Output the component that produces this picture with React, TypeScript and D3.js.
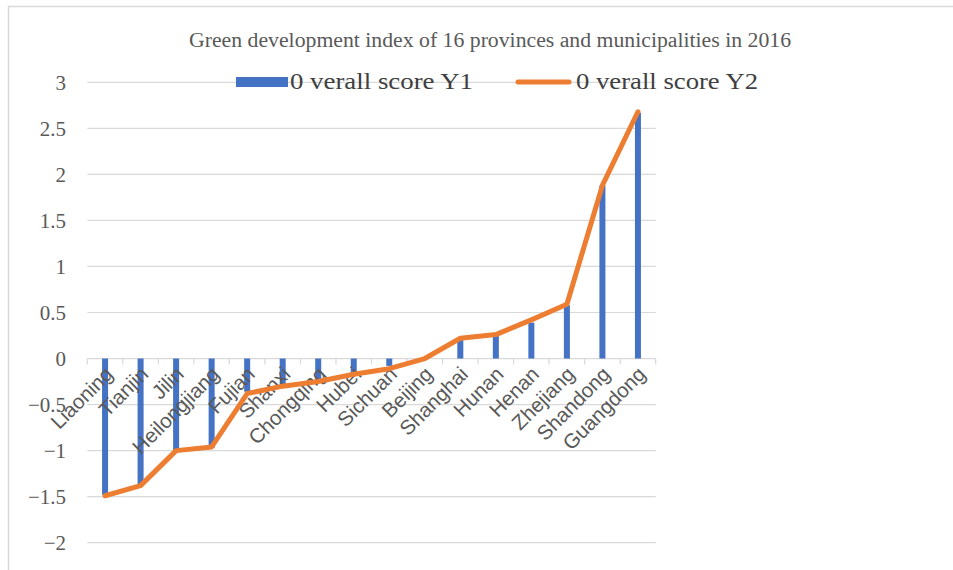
import React from 'react';
import * as d3 from 'd3';

const provinces = [
  'Liaoning', 'Tianjin', 'Jilin', 'Heilongjiang', 'Fujian', 'Shanxi', 'Chongqing', 'Hubei',
  'Sichuan', 'Beijing', 'Shanghai', 'Hunan', 'Henan', 'Zhejiang', 'Shandong', 'Guangdong',
];
const scoreY1 = [-1.48, -1.37, -1.01, -0.97, -0.36, -0.28, -0.24, -0.17, -0.08, -0.01, 0.2, 0.26, 0.39, 0.58, 1.88, 2.67];
const scoreY2 = [-1.49, -1.38, -1.0, -0.96, -0.38, -0.3, -0.25, -0.17, -0.11, 0.0, 0.22, 0.26, 0.42, 0.59, 1.88, 2.68];
const yTicks = [3, 2.5, 2, 1.5, 1, 0.5, 0, -0.5, -1, -1.5, -2];

const W = 953;
const H = 570;

const App: React.FC = () => {
  const x = d3.scaleBand<string>().domain(provinces).range([87.3, 655.7]);
  const y = d3.scaleLinear().domain([-2, 3]).range([542.7, 82.3]);
  const fmt = d3.format('~g');
  const barW = 6;

  const line = d3.line<number>()
    .x((_, i) => (x(provinces[i]) as number) + x.bandwidth() / 2)
    .y(d => y(d));

  const grey = '#595959';
  const gridColor = '#d9d9d9';

  return (
    <svg width={W} height={H} style={{ position: 'absolute', left: 0, top: 0 }}>
      <rect x={0} y={0} width={W} height={H} fill="#fff" />
      {/* chart frame */}
      <rect x={8.5} y={6.5} width={W} height={H} fill="none" stroke={gridColor} strokeWidth={1.5} />

      <text x={490} y={47} textAnchor="middle" fontFamily="'Liberation Serif', serif" fontSize={20}
        fill={grey} textLength={602} lengthAdjust="spacingAndGlyphs">
        Green development index of 16 provinces and municipalities in 2016
      </text>

      {/* gridlines */}
      {yTicks.map(t => (
        <line key={t} x1={87.3} x2={655.7} y1={y(t)} y2={y(t)} stroke={gridColor} strokeWidth={1.2} />
      ))}
      {/* category ticks on zero line */}
      {d3.range(provinces.length + 1).map(i => {
        const xx = 87.3 + i * x.step();
        return <line key={i} x1={xx} x2={xx} y1={y(0)} y2={y(0) + 6} stroke={gridColor} strokeWidth={1.2} />;
      })}

      {/* y tick labels */}
      {yTicks.map(t => (
        <text key={t} x={66} y={y(t)} dy="0.35em" textAnchor="end" fontFamily="'Liberation Serif', serif"
          fontSize={21} fill={grey}>
          {fmt(t)}
        </text>
      ))}

      {/* bars */}
      {scoreY1.map((v, i) => {
        const cx = (x(provinces[i]) as number) + x.bandwidth() / 2;
        return (
          <rect key={provinces[i]} x={cx - barW / 2} width={barW}
            y={Math.min(y(v), y(0))} height={Math.abs(y(v) - y(0))} fill="#4472C4" />
        );
      })}

      {/* category labels */}
      {provinces.map(p => {
        const cx = (x(p) as number) + x.bandwidth() / 2;
        return (
          <text key={p} transform={`translate(${cx + 9},${y(0) + 17}) rotate(-45)`} textAnchor="end"
            fontFamily="'Liberation Sans', sans-serif" fontSize={20.5} fill={grey}>
            {p}
          </text>
        );
      })}

      <path d={line(scoreY2) ?? ''} fill="none" stroke="#ED7D31" strokeWidth={5} strokeLinejoin="round" strokeLinecap="round" />

      {/* legend */}
      <rect x={236} y={77} width={52} height={10} fill="#4472C4" />
      <text x={290} y={89} fontFamily="'Liberation Serif', serif" fontSize={24} fill="#404040"
        textLength={183} lengthAdjust="spacingAndGlyphs">0 verall score Y1</text>
      <line x1={518} x2={569} y1={82} y2={82} stroke="#ED7D31" strokeWidth={5} strokeLinecap="round" />
      <text x={576} y={89} fontFamily="'Liberation Serif', serif" fontSize={24} fill="#404040"
        textLength={182} lengthAdjust="spacingAndGlyphs">0 verall score Y2</text>
    </svg>
  );
};

export default App;
